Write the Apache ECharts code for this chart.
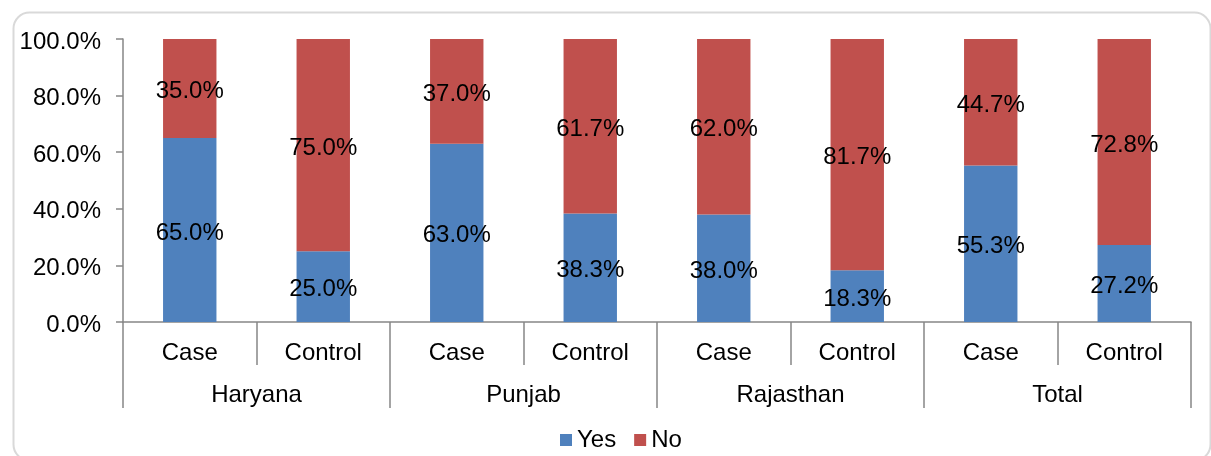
<!DOCTYPE html>
<html>
<head>
<meta charset="utf-8">
<script src="https://cdn.jsdelivr.net/npm/echarts@6/dist/echarts.min.js"></script>
<style>
html,body{margin:0;padding:0;background:#fff;}
#chart{width:1211px;height:456px;}
</style>
</head>
<body>
<div id="chart"></div>
<script>
var categories = ['Case','Control','Case','Control','Case','Control','Case','Control'];
var groups = ['Haryana','Punjab','Rajasthan','Total'];
var yesValues = [65.0, 25.0, 63.0, 38.3, 38.0, 18.3, 55.3, 27.2];
var noValues  = [35.0, 75.0, 37.0, 61.7, 62.0, 81.7, 44.7, 72.8];
var yTicks = [0, 20, 40, 60, 80, 100];

var FONT = 'Liberation Sans, Arial, sans-serif';
var FS = 24;
var chart = echarts.init(document.getElementById('chart'), null, {renderer:'canvas'});
var labelFmt = function(p){ return p.value.toFixed(1) + '%'; };
chart.setOption({
  animation: false,
  textStyle: {fontFamily: FONT},
  graphic: [{
    type: 'rect', left: 11, top: 10, z: -10,
    shape: {width: 1197, height: 448, r: 16},
    style: {fill: 'none', stroke: '#d9d9d9', lineWidth: 2}
  }],
  grid: {left: 123, right: 20, top: 39, bottom: 134},
  legend: {
    left: 555, top: 423,
    itemWidth: 12, itemHeight: 12, itemGap: 18,
    textStyle: {fontFamily: FONT, fontSize: FS, color: '#000'},
    data: [{name:'Yes', icon:'rect'}, {name:'No', icon:'rect'}]
  },
  xAxis: [{
    type: 'category', data: categories, position: 'bottom',
    axisLine: {show: true, lineStyle: {color: '#868686', width: 1.5}},
    axisTick: {show: true, interval: 0, length: 43, lineStyle: {color: '#868686', width: 1.5}},
    axisLabel: {interval: 0, margin: 19, fontSize: FS, color: '#000', fontFamily: FONT}
  }, {
    type: 'category', data: groups, position: 'bottom',
    axisLine: {show: false},
    axisTick: {show: true, interval: 0, length: 86, lineStyle: {color: '#868686', width: 1.5}},
    axisLabel: {interval: 0, margin: 61, fontSize: FS, color: '#000', fontFamily: FONT}
  }],
  yAxis: {
    type: 'value', min: 0, max: 100, interval: 20,
    axisLine: {show: true, lineStyle: {color: '#868686', width: 1.5}},
    axisTick: {show: true, length: 7, inside: false, lineStyle: {color: '#868686', width: 1.5}},
    splitLine: {show: false},
    axisLabel: {margin: 22, fontSize: FS, color: '#000', fontFamily: FONT,
      formatter: function(v){ return '{a|' + v.toFixed(1) + '%}'; },
      rich: {a: {fontSize: FS, color: '#000', fontFamily: FONT, padding: [6,0,0,0]}}}
  },
  series: [{
    name: 'Yes', type: 'bar', stack: 's', data: yesValues, barWidth: '40%',
    itemStyle: {color: '#4F81BD'},
    label: {show: true, position: 'inside', offset: [0, 3], fontSize: FS, color: '#000', fontFamily: FONT, formatter: labelFmt}
  }, {
    name: 'No', type: 'bar', stack: 's', data: noValues, barWidth: '40%',
    itemStyle: {color: '#C0504D'},
    label: {show: true, position: 'inside', offset: [0, 3], fontSize: FS, color: '#000', fontFamily: FONT, formatter: labelFmt}
  }]
});
</script>
</body>
</html>
